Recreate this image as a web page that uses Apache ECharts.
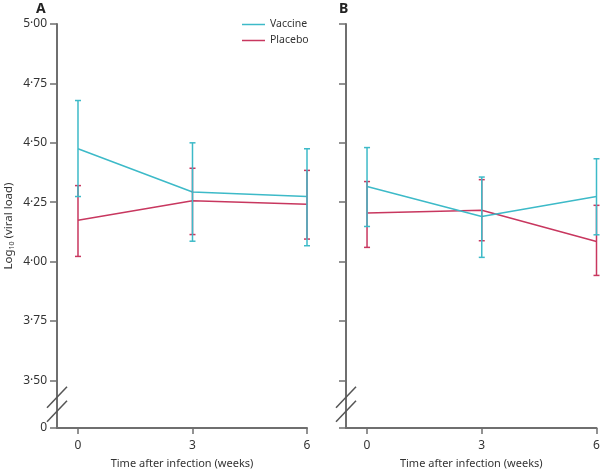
<!DOCTYPE html>
<html>
<head>
<meta charset="utf-8">
<script src="https://cdn.jsdelivr.net/npm/echarts@6/dist/echarts.min.js"></script>
<style>html,body{margin:0;padding:0;background:#fff;}#c{width:600px;height:469px;}</style>
</head>
<body>
<div id="c"></div>
<script>
const weeks = [0, 3, 6];
const yTickValues = [3.30, 3.50, 3.75, 4.00, 4.25, 4.50, 4.75, 5.00];
const xTickValues = [0, 3, 6];
const breakValue = 3.30; // shown as "0" after the axis break

// Panel A
const aVaccineMean = [4.475, 4.293, 4.274];
const aVaccineLow  = [4.274, 4.086, 4.067];
const aVaccineHigh = [4.678, 4.500, 4.475];
const aPlaceboMean = [4.174, 4.256, 4.242];
const aPlaceboLow  = [4.022, 4.114, 4.095];
const aPlaceboHigh = [4.320, 4.393, 4.384];
// Panel B
const bVaccineMean = [4.316, 4.190, 4.274];
const bVaccineLow  = [4.148, 4.018, 4.113];
const bVaccineHigh = [4.480, 4.356, 4.433];
const bPlaceboMean = [4.205, 4.216, 4.085];
const bPlaceboLow  = [4.060, 4.088, 3.942];
const bPlaceboHigh = [4.337, 4.345, 4.237];

const VAC = '#3dbac8';
const PLA = '#c8375f';
const AXIS = '#6f6f6f';
const FONT = 'Noto Sans';
const TXT = '#333';

const chart = echarts.init(document.getElementById('c'), null, {renderer: 'canvas'});

function zip(xs, ys) { return xs.map((x, i) => [x, ys[i]]); }
function errData(lo, hi) { return weeks.map((w, i) => [w, lo[i], hi[i]]); }

function errSeries(name, idx, lo, hi, color) {
  return {
    type: 'custom', name: name, xAxisIndex: idx, yAxisIndex: idx,
    data: errData(lo, hi),
    renderItem: function (params, api) {
      const x = api.value(0);
      const p1 = api.coord([x, api.value(1)]);
      const p2 = api.coord([x, api.value(2)]);
      const hw = 3;
      const st = {stroke: color, lineWidth: 1.5};
      return {type: 'group', children: [
        {type: 'line', shape: {x1: p1[0], y1: p1[1], x2: p2[0], y2: p2[1]}, style: st},
        {type: 'line', shape: {x1: p1[0]-hw, y1: p1[1], x2: p1[0]+hw, y2: p1[1]}, style: st},
        {type: 'line', shape: {x1: p2[0]-hw, y1: p2[1], x2: p2[0]+hw, y2: p2[1]}, style: st}
      ]};
    },
    silent: true, z: 3
  };
}
function lineSeries(name, idx, ys, color) {
  return {
    type: 'line', name: name, xAxisIndex: idx, yAxisIndex: idx,
    data: zip(weeks, ys), showSymbol: false, symbol: 'none',
    lineStyle: {color: color, width: 1.5}, itemStyle: {color: color},
    silent: true, z: 2
  };
}

function xAxis(idx) {
  return {
    type: 'value', gridIndex: idx, min: -0.55, max: 6,
    name: 'Time after infection (weeks)', nameLocation: 'middle', nameGap: 30,
    nameTextStyle: {fontFamily: FONT, fontSize: 11, color: TXT},
    axisLine: {show: true, onZero: false, lineStyle: {color: AXIS, width: 2}},
    axisTick: {show: true, length: 6, lineStyle: {color: AXIS, width: 1.5}, customValues: xTickValues},
    axisLabel: {fontFamily: FONT, fontSize: 12, color: TXT, margin: 12, customValues: xTickValues,
      formatter: v => String(v)},
    splitLine: {show: false}
  };
}
function fmtY(v) {
  if (Math.abs(v - breakValue) < 1e-6) return '0';
  return v.toFixed(2).replace('.', '\u00B7');
}
function yAxis(idx, showLabels) {
  const ax = {
    type: 'value', gridIndex: idx, min: breakValue, max: 5.00,
    axisLine: {show: true, onZero: false, lineStyle: {color: AXIS, width: 2}},
    axisTick: {show: true, length: 7, lineStyle: {color: AXIS, width: 1.5}, customValues: yTickValues},
    axisLabel: {show: showLabels, fontFamily: FONT, fontSize: 12, color: TXT, margin: 10,
      padding: [5, 0, 0, 0], customValues: yTickValues, formatter: fmtY},
    splitLine: {show: false}
  };
  if (showLabels) {
    ax.name = '{a|Log}{s|10}{a| (viral load)}';
    ax.nameLocation = 'middle';
    ax.nameGap = 42;
    ax.nameTextStyle = {rich: {
      a: {fontFamily: FONT, fontSize: 11.5, color: TXT},
      s: {fontFamily: FONT, fontSize: 7, color: TXT, verticalAlign: 'bottom', padding: [6, 0, 0, 0]}
    }};
  }
  return ax;
}

const option = {
  animation: false,
  backgroundColor: '#fff',
  title: [
    {text: 'A', left: 31, top: -3, textStyle: {fontFamily: FONT, fontSize: 14, fontWeight: 'bold', color: '#222'}},
    {text: 'B', left: 334, top: -3, textStyle: {fontFamily: FONT, fontSize: 14, fontWeight: 'bold', color: '#222'}}
  ],
  legend: {
    data: ['Vaccine', 'Placebo'], orient: 'vertical', left: 242, top: 18, padding: 0,
    icon: 'rect', itemWidth: 23, itemHeight: 1.5, itemGap: 3,
    textStyle: {fontFamily: FONT, fontSize: 10.5, color: TXT, padding: [0, 0, 0, 0], lineHeight: 13},
    selectedMode: false
  },
  grid: [
    {left: 57, top: 24, width: 250, height: 404, containLabel: false, outerBoundsMode: 'none'},
    {left: 346, top: 24, width: 250.5, height: 404, containLabel: false, outerBoundsMode: 'none'}
  ],
  xAxis: [xAxis(0), xAxis(1)],
  yAxis: [yAxis(0, true), yAxis(1, false)],
  series: [
    lineSeries('Placebo', 0, aPlaceboMean, PLA),
    lineSeries('Vaccine', 0, aVaccineMean, VAC),
    errSeries('Placebo', 0, aPlaceboLow, aPlaceboHigh, PLA),
    errSeries('Vaccine', 0, aVaccineLow, aVaccineHigh, VAC),
    lineSeries('Placebo', 1, bPlaceboMean, PLA),
    lineSeries('Vaccine', 1, bVaccineMean, VAC),
    errSeries('Placebo', 1, bPlaceboLow, bPlaceboHigh, PLA),
    errSeries('Vaccine', 1, bVaccineLow, bVaccineHigh, VAC)
  ]
};
chart.setOption(option);

// axis-break marks on both y axes
const graphics = [];
[0, 1].forEach(function (g) {
  const c = chart.convertToPixel({gridIndex: g}, [-0.55, 3.40]);
  [-7, 7].forEach(function (dy) {
    const cy = c[1] + dy;
    graphics.push({type: 'line', silent: true, z: 10,
      shape: {x1: c[0] - 10, y1: cy + 10.5, x2: c[0] + 10, y2: cy - 10.5},
      style: {stroke: '#555', lineWidth: 1.5}});
  });
});
chart.setOption({graphic: graphics});
</script>
</body>
</html>
